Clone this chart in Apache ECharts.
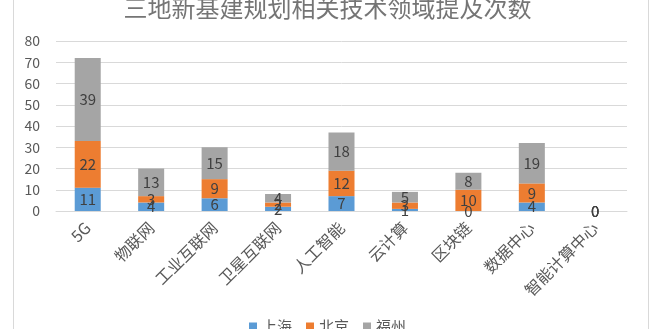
<!DOCTYPE html>
<html><head><meta charset="utf-8">
<script src="https://cdn.jsdelivr.net/npm/echarts@6/dist/echarts.min.js"></script>
<style>html,body{margin:0;padding:0;background:#fff}#c{width:655px;height:329px}</style>
</head><body><div id="c"></div>
<script>
const categories = ['5G','物联网','工业互联网','卫星互联网','人工智能','云计算','区块链','数据中心','智能计算中心'];
const shanghai = [11,4,6,2,7,1,0,4,0];
const beijing = [22,3,9,2,12,3,10,9,0];
const fuzhou = [39,13,15,4,18,5,8,19,0];
const yTicks = {min:0, max:80, interval:10};
const font = '"Noto Sans CJK SC", sans-serif';
const chart = echarts.init(document.getElementById('c'));
const mk = (name, data, color) => ({
  name, type:'bar', stack:'a', data, barWidth:'41%',
  itemStyle:{color},
  label:{show:true, position:'inside', color:'#404040', fontSize:15, fontFamily:font},
  labelLayout:{hideOverlap:false}
});
chart.setOption({
  animation:false,
  graphic:[{type:'rect', shape:{x:13.5,y:-5,width:635,height:340}, style:{fill:'none', stroke:'#d9d9d9', lineWidth:1}, silent:true, z:-1}],
  title:{text:'三地新基建规划相关技术领域提及次数', left:'center', top:-9,
    textStyle:{fontFamily:font, fontSize:24, fontWeight:'normal', color:'#757575'}},
  legend:{bottom:-10, left:'center', itemWidth:8, itemHeight:8, itemGap:14, icon:'rect',
    textStyle:{fontFamily:font, fontSize:15, color:'#595959'}},
  grid:{left:56, right:28, top:41, bottom:118, containLabel:false},
  xAxis:{type:'category', data:categories,
    axisLine:{lineStyle:{color:'#d9d9d9'}}, axisTick:{show:false},
    axisLabel:{rotate:45, fontFamily:font, fontSize:16, color:'#595959', interval:0, margin:14}},
  yAxis:{type:'value', min:yTicks.min, max:yTicks.max, interval:yTicks.interval,
    axisLine:{show:false}, axisTick:{show:false},
    axisLabel:{fontFamily:font, fontSize:14, color:'#595959', margin:16},
    splitLine:{lineStyle:{color:'#d9d9d9'}}},
  series:[mk('上海', shanghai, '#5b9bd5'), mk('北京', beijing, '#ed7d31'), mk('福州', fuzhou, '#a5a5a5')]
});
</script></body></html>
